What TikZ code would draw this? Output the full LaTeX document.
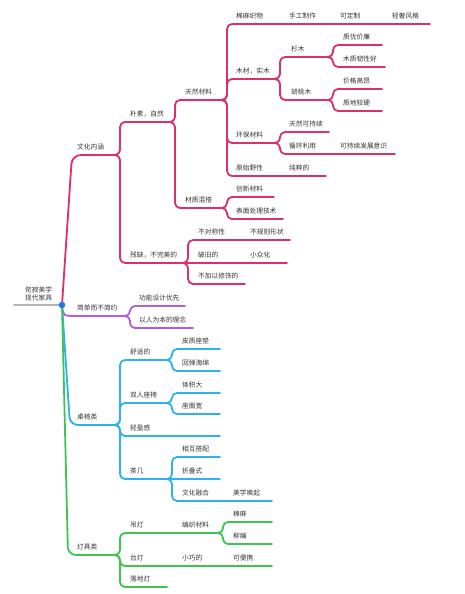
\documentclass[tikz,border=0pt]{standalone}
\usepackage{fontspec}
\setmainfont{Noto Sans CJK SC}
\definecolor{cR}{HTML}{DC2F6E}
\definecolor{cP}{HTML}{B35CDE}
\definecolor{cB}{HTML}{2CB2F2}
\definecolor{cG}{HTML}{3EC452}
\definecolor{cT}{HTML}{333333}
\definecolor{cD}{HTML}{1F7AF2}
\definecolor{cN}{HTML}{B4B4B4}
\tikzset{
 lab/.style={anchor=base west, inner sep=0pt, font=\fontsize{6.7pt}{8pt}\selectfont, text=cT},
 br/.style={line width=1.8pt, line cap=round, line join=round},
}
\newcommand\tx[4]{\node[lab] (#1) at (#2,#3-5.5) {#4};}
\newcommand\ed[3]{\draw[br,#1,rounded corners=5pt] (#2) -- ++(5,0) |- (#3);}
\begin{document}
\begin{tikzpicture}[x=1pt,y=-1pt]
\fill[white] (0,0) rectangle (465,594);
\useasboundingbox (0,0) rectangle (465,594);
% coordinates
\coordinate (root) at (62,305);
\coordinate (rootL) at (14,305);
% red
\coordinate (wh) at (115,155);
\coordinate (pz) at (170,122);
\coordinate (cq) at (183,263);
\coordinate (tr) at (222,100);
\coordinate (cz) at (222,208);
\coordinate (mm) at (430,24);
\coordinate (mc) at (275,79);
\coordinate (hb) at (275,143);
\coordinate (ys) at (326,176);
\coordinate (sm) at (328,57);
\coordinate (ht) at (328,100);
\coordinate (zy) at (382,45);
\coordinate (mz) at (385,67);
\coordinate (jg) at (382,89);
\coordinate (zd) at (382,111);
\coordinate (tk) at (329,132);
\coordinate (xh) at (395,154);
\coordinate (cx) at (274,197);
\coordinate (bm) at (283,219);
\coordinate (bd) at (290,240);
\coordinate (pj) at (287,263);
\coordinate (bj) at (245,284);
% purple
\coordinate (jd) at (125,316);
\coordinate (gn) at (185,306);
\coordinate (yr) at (193,328);
% blue
\coordinate (zyl) at (115,425);
\coordinate (ss) at (167,360);
\coordinate (sr) at (167,403);
\coordinate (qy) at (220,436);
\coordinate (cj) at (167,479);
\coordinate (pzd) at (220,349);
\coordinate (htm) at (220,371);
\coordinate (tj) at (220,393);
\coordinate (zm) at (220,414);
\coordinate (xhd) at (220,457);
\coordinate (zds) at (220,479);
\coordinate (whr) at (272,501);
% green
\coordinate (dj) at (115,555);
\coordinate (dd) at (218,533);
\coordinate (td) at (272,566);
\coordinate (ld) at (167,587);
\coordinate (mmz) at (272,522);
\coordinate (lb) at (272,544);

% root branches
\draw[br,cN] (rootL) -- (root);
\draw[br,cR,rounded corners=9pt] (root) -- (72,155) -- (wh);
\draw[br,cP] (root) .. controls (63,316) .. (77,316) -- (jd);
\draw[br,cB,rounded corners=8pt] (root) -- (70,425) -- (zyl);
\draw[br,cG,rounded corners=8pt] (root) -- (68,555) -- (dj);

% red edges
\ed{cR}{wh}{pz}
\ed{cR}{wh}{cq}
\ed{cR}{pz}{tr}
\ed{cR}{pz}{cz}
\ed{cR}{tr}{mm}
\ed{cR}{tr}{mc}
\ed{cR}{tr}{hb}
\ed{cR}{tr}{ys}
\ed{cR}{mc}{sm}
\ed{cR}{mc}{ht}
\ed{cR}{sm}{zy}
\ed{cR}{sm}{mz}
\ed{cR}{ht}{jg}
\ed{cR}{ht}{zd}
\ed{cR}{hb}{tk}
\ed{cR}{hb}{xh}
\ed{cR}{cz}{cx}
\ed{cR}{cz}{bm}
\ed{cR}{cq}{bd}
\draw[br,cR] (cq) -- (pj);
\ed{cR}{cq}{bj}
% purple edges
\ed{cP}{jd}{gn}
\ed{cP}{jd}{yr}
% blue edges
\ed{cB}{zyl}{ss}
\ed{cB}{zyl}{sr}
\ed{cB}{zyl}{qy}
\ed{cB}{zyl}{cj}
\ed{cB}{ss}{pzd}
\ed{cB}{ss}{htm}
\ed{cB}{sr}{tj}
\ed{cB}{sr}{zm}
\ed{cB}{cj}{xhd}
\draw[br,cB] (cj) -- (zds);
\ed{cB}{cj}{whr}
% green edges
\ed{cG}{dj}{dd}
\ed{cG}{dj}{td}
\ed{cG}{dj}{ld}
\ed{cG}{dd}{mmz}
\ed{cG}{dd}{lb}

\fill[cD] (root) circle (3.3);

% texts
\node[lab] (t0a) at (25,292.5) {侘寂美学};
\node[lab] (t0b) at (25,300.5) {现代家具};
\tx{t1}{77}{155}{文化内涵}
\tx{t2}{130}{122}{朴素，自然}
\tx{t3}{130}{263}{残缺，不完美的}
\tx{t4}{185}{100}{天然材料}
\tx{t5}{185}{208}{材质混搭}
\tx{t6}{236}{24}{棉麻织物}
\tx{t6b}{289}{24}{手工制作}
\tx{t6c}{340}{24}{可定制}
\tx{t6d}{392}{24}{轻奢风格}
\tx{t7}{236}{79}{木材，实木}
\tx{t8}{236}{143}{环保材料}
\tx{t9}{236}{176}{原始野性}
\tx{t9b}{289}{176}{纯粹的}
\tx{t10}{291}{57}{杉木}
\tx{t11}{291}{100}{胡桃木}
\tx{t12}{343}{45}{质优价廉}
\tx{t13}{343}{67}{木质韧性好}
\tx{t14}{343}{89}{价格高昂}
\tx{t15}{343}{111}{质地较硬}
\tx{t16}{289}{132}{天然可持续}
\tx{t17}{289}{154}{循环利用}
\tx{t17b}{340}{154}{可持续发展意识}
\tx{t18}{236}{197}{创新材料}
\tx{t19}{236}{219}{表面处理技术}
\tx{t20}{198}{240}{不对称性}
\tx{t20b}{250}{240}{不规则形状}
\tx{t21}{198}{263}{破旧的}
\tx{t21b}{250}{263}{小众化}
\tx{t22}{198}{284}{不加以修饰的}
\tx{p1}{77}{316}{简单而不简约}
\tx{p2}{139}{306}{功能设计优先}
\tx{p3}{139}{328}{以人为本的理念}
\tx{b1}{77}{425}{桌椅类}
\tx{b2}{130}{360}{舒适的}
\tx{b3}{130}{403}{双人座椅}
\tx{b4}{130}{436}{轻盈感}
\tx{b5}{130}{479}{茶几}
\tx{b6}{182}{349}{皮质座垫}
\tx{b7}{182}{371}{回弹海绵}
\tx{b8}{182}{393}{体积大}
\tx{b9}{182}{414}{座面宽}
\tx{b10}{182}{457}{相互搭配}
\tx{b11}{182}{479}{折叠式}
\tx{b12}{182}{501}{文化融合}
\tx{b12b}{233}{501}{美学唤起}
\tx{g1}{77}{555}{灯具类}
\tx{g2}{130}{533}{吊灯}
\tx{g2b}{182}{533}{编织材料}
\tx{g3}{130}{566}{台灯}
\tx{g3b}{182}{566}{小巧的}
\tx{g3c}{233}{566}{可便携}
\tx{g4}{130}{587}{落地灯}
\tx{g5}{233}{522}{棉麻}
\tx{g6}{233}{544}{柳编}
\end{tikzpicture}
\end{document}
